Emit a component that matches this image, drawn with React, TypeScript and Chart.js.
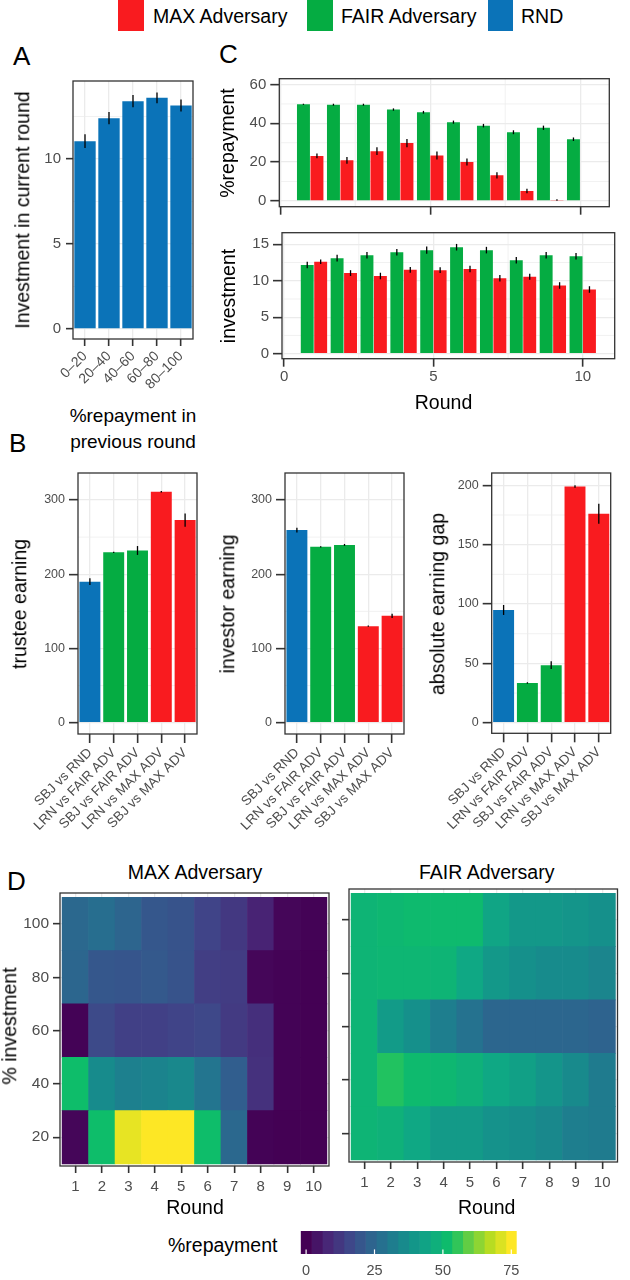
import React, { useEffect, useRef } from 'react';
import { Chart, registerables } from 'chart.js';

Chart.register(...registerables);

const FONT = "'Liberation Sans', Arial, Helvetica, sans-serif";
Chart.defaults.font.family = FONT;

const RED = '#f91b1f';
const GREEN = '#05ac42';
const BLUE = '#0b73b8';
const TICK_COL = '#4d4d4d';
const GRID_COL = '#ebebeb';
const AXIS_COL = '#333333';

// ---------------- Panel A ----------------
const A_CATEGORIES = ['0–20', '20–40', '40–60', '60–80', '80–100'];
const A_INVESTMENT = [11.05, 12.4, 13.4, 13.6, 13.15];
const A_ERROR = [0.4, 0.36, 0.36, 0.32, 0.35];
const A_Y_TICKS = [0, 5, 10];

// ---------------- Panel B ----------------
const B_CATEGORIES = ['SBJ vs RND', 'LRN vs FAIR ADV', 'SBJ vs FAIR ADV', 'LRN vs MAX ADV', 'SBJ vs MAX ADV'];
const B_GROUP = ['RND', 'FAIR', 'FAIR', 'MAX', 'MAX'];
const B_TRUSTEE = [190, 229.5, 232, 311, 273];
const B_TRUSTEE_ERR = [4.5, 0.8, 6, 1, 9];
const B_INVESTOR = [259.5, 237, 239.5, 130, 144];
const B_INVESTOR_ERR = [3.2, 0.8, 1.3, 0.8, 2.8];
const B_GAP = [95, 33.5, 48.5, 199, 176];
const B_GAP_ERR = [4.2, 0.6, 3.3, 1, 8.4];
const B_EARN_TICKS = [0, 100, 200, 300];
const B_GAP_TICKS = [0, 50, 100, 150, 200];

// ---------------- Panel C ----------------
const ROUNDS = [1, 2, 3, 4, 5, 6, 7, 8, 9, 10];
const C_REPAY_FAIR = [49.8, 49.6, 49.6, 47.1, 45.7, 40.6, 38.8, 35.4, 37.7, 31.8];
const C_REPAY_FAIR_ERR = [0.3, 0.5, 0.5, 0.6, 0.7, 0.8, 0.9, 1.0, 1.1, 0.9];
const C_REPAY_MAX = [23.2, 20.9, 25.6, 29.8, 23.4, 20.0, 13.2, 5.1, 0.5, null];
const C_REPAY_MAX_ERR = [1.2, 1.7, 2.0, 2.1, 2.0, 1.8, 1.6, 1.2, 0.4, null];
const C_INV_FAIR = [12.15, 13.1, 13.5, 13.9, 14.2, 14.6, 14.2, 12.8, 13.5, 13.35];
const C_INV_FAIR_ERR = [0.45, 0.45, 0.45, 0.45, 0.5, 0.45, 0.45, 0.45, 0.45, 0.45];
const C_INV_MAX = [12.6, 11.05, 10.65, 11.5, 11.45, 11.6, 10.35, 10.55, 9.35, 8.8];
const C_INV_MAX_ERR = [0.3, 0.4, 0.45, 0.4, 0.4, 0.45, 0.45, 0.4, 0.45, 0.45];
const C_X_TICKS = [0, 5, 10];
const C_REPAY_TICKS = [0, 20, 40, 60];
const C_INV_TICKS = [0, 5, 10, 15];

// ---------------- Panel D ----------------
const HEAT_INVEST_LEVELS = [20, 40, 60, 80, 100];
const MAX_REPAY_INV20 = [1, 52, 72.5, 75, 75, 52, 25, 0.5, 0, 0];
const MAX_REPAY_INV40 = [52, 36, 32.5, 33.5, 35, 29, 22, 10.5, 0.5, 0];
const MAX_REPAY_INV60 = [0.5, 16.5, 14, 14, 15, 16, 12.5, 10, 0.5, 0];
const MAX_REPAY_INV80 = [24.5, 20, 19.5, 20.5, 19, 13.5, 13, 1, 0.5, 0];
const MAX_REPAY_INV100 = [25, 27, 24, 20, 19, 15, 12, 7, 1, 0.5];
const FAIR_REPAY_INV20 = [49, 48, 45, 40.5, 40.5, 38, 37, 35, 32, 31];
const FAIR_REPAY_INV40 = [49, 54, 51, 50, 48, 45, 42.5, 39, 35.5, 31];
const FAIR_REPAY_INV60 = [49, 41, 37.5, 32, 28, 24.5, 24.5, 24.5, 24.5, 23.5];
const FAIR_REPAY_INV80 = [49, 49.5, 49.5, 49, 45, 40, 37.5, 36, 36, 34];
const FAIR_REPAY_INV100 = [49, 50, 51, 51, 51, 44, 40, 40, 39, 37.5];
const HEAT_Y_TICKS = [20, 40, 60, 80, 100];
const COLOR_MAX = 75;
const COLORBAR_TICKS = [0, 25, 50, 75];
const COLORBAR_BINS = 20;

const MAX_MATRIX = [MAX_REPAY_INV20, MAX_REPAY_INV40, MAX_REPAY_INV60, MAX_REPAY_INV80, MAX_REPAY_INV100];
const FAIR_MATRIX = [FAIR_REPAY_INV20, FAIR_REPAY_INV40, FAIR_REPAY_INV60, FAIR_REPAY_INV80, FAIR_REPAY_INV100];

const GROUP_COLOR: Record<string, string> = { RND: BLUE, FAIR: GREEN, MAX: RED };

// viridis-like palette (slightly more saturated, as printed in the figure)
const VIRIDIS = ['#440154', '#482576', '#404488', '#30608e', '#21788f', '#15908b', '#0fa884', '#0ebf68', '#6ccf40', '#bbdd20', '#fde725'];
function hexToRgb(h: string) {
  return [parseInt(h.slice(1, 3), 16), parseInt(h.slice(3, 5), 16), parseInt(h.slice(5, 7), 16)];
}
function viridis(t: number) {
  const s = Math.max(0, Math.min(1, t)) * (VIRIDIS.length - 1);
  const i = Math.min(Math.floor(s), VIRIDIS.length - 2);
  const f = s - i;
  const a = hexToRgb(VIRIDIS[i]);
  const b = hexToRgb(VIRIDIS[i + 1]);
  return `rgb(${a.map((v, k) => Math.round(v + (b[k] - v) * f)).join(',')})`;
}

// ---------------- geometry ----------------
type Cv = { x: number; y: number; w: number; h: number };
type Pl = { l: number; r: number; t: number; b: number };

const A_CV: Cv = { x: 0, y: 63, w: 205, h: 340 };
const A_PL: Pl = { l: 73, r: 193, t: 81, b: 339 };
const CT_CV: Cv = { x: 212, y: 60, w: 418, h: 168 };
const CT_PL: Pl = { l: 279.3, r: 609.3, t: 78.7, b: 206.7 };
const CB_CV: Cv = { x: 212, y: 214, w: 418, h: 176 };
const CB_PL: Pl = { l: 282, r: 614.7, t: 232.7, b: 358.7 };
const BL_CV: Cv = { x: 0, y: 455, w: 205, h: 380 };
const BL_PL: Pl = { l: 78, r: 197, t: 473, b: 734 };
const BM_CV: Cv = { x: 205, y: 455, w: 212, h: 380 };
const BM_PL: Pl = { l: 285, r: 404, t: 473, b: 734 };
const BR_CV: Cv = { x: 417, y: 455, w: 213, h: 380 };
const BR_PL: Pl = { l: 491.7, r: 610.7, t: 473, b: 733.3 };
const DL_CV: Cv = { x: 0, y: 875, w: 336, h: 330 };
const DL_PL: Pl = { l: 60, r: 329, t: 893, b: 1166 };
const DR_CV: Cv = { x: 336, y: 871, w: 294, h: 330 };
const DR_PL: Pl = { l: 349, r: 617.5, t: 889, b: 1162 };
const BAR_CV: Cv = { x: 288, y: 1213, w: 242, h: 67 };
const BAR_PL: Pl = { l: 300.7, r: 516.7, t: 1231, b: 1254 };

const yW = (cv: Cv, p: Pl) => p.l - cv.x;
const xH = (cv: Cv, p: Pl) => cv.y + cv.h - p.b;

function baseOptions(cv: Cv, p: Pl, scales: any): any {
  return {
    responsive: true,
    maintainAspectRatio: false,
    animation: false,
    events: [],
    layout: { padding: { left: 0, top: p.t - cv.y, right: cv.x + cv.w - p.r, bottom: 0 } },
    plugins: { legend: { display: false }, tooltip: { enabled: false }, title: { display: false } },
    scales,
  };
}

function linAxis(o: {
  pos: 'x' | 'y'; min: number; max: number; ticks: number[]; size: number;
  tickLen: number; pad: number; fit: number; labels?: boolean;
}): any {
  const isY = o.pos === 'y';
  return {
    type: 'linear',
    position: isY ? 'left' : 'bottom',
    min: o.min,
    max: o.max,
    offset: false,
    afterBuildTicks: (ax: any) => { ax.ticks = o.ticks.map((v) => ({ value: v })); },
    afterFit: (ax: any) => { if (isY) ax.width = o.fit; else ax.height = o.fit; },
    grid: {
      color: GRID_COL, lineWidth: 1.3, offset: false, drawTicks: true,
      tickLength: o.tickLen, tickColor: AXIS_COL, tickWidth: 1.6,
    },
    border: { display: false },
    ticks: {
      display: o.labels !== false, color: TICK_COL, font: { size: o.size, family: FONT },
      padding: o.pad, autoSkip: false, maxRotation: 0, minRotation: 0,
      callback: (v: any) => String(v),
    },
  };
}

function catAxis(o: { size: number; tickLen: number; pad: number; fit: number }): any {
  return {
    type: 'category',
    position: 'bottom',
    offset: true,
    afterFit: (ax: any) => { ax.height = o.fit; },
    grid: { color: GRID_COL, lineWidth: 1.3, offset: false, tickLength: o.tickLen, tickColor: AXIS_COL, tickWidth: 1.6 },
    border: { display: false },
    ticks: { color: TICK_COL, font: { size: o.size, family: FONT }, padding: o.pad, autoSkip: false, maxRotation: 45, minRotation: 45 },
  };
}

// ---------------- plugins ----------------
function framePlugin(): any {
  return {
    id: 'frame',
    afterDraw(chart: any) {
      const { ctx, chartArea: a } = chart;
      ctx.save();
      ctx.strokeStyle = AXIS_COL;
      ctx.lineWidth = 1.3;
      ctx.strokeRect(a.left, a.top, a.right - a.left, a.bottom - a.top);
      ctx.restore();
    },
  };
}

function minorGridPlugin(xs: number[], ys: number[]): any {
  return {
    id: 'minorGrid',
    beforeDatasetsDraw(chart: any) {
      const { ctx, chartArea: a, scales } = chart;
      ctx.save();
      ctx.strokeStyle = GRID_COL;
      ctx.lineWidth = 0.7;
      ys.forEach((v) => {
        const y = scales.y.getPixelForValue(v);
        ctx.beginPath(); ctx.moveTo(a.left, y); ctx.lineTo(a.right, y); ctx.stroke();
      });
      xs.forEach((v) => {
        const x = scales.x.getPixelForValue(v);
        ctx.beginPath(); ctx.moveTo(x, a.top); ctx.lineTo(x, a.bottom); ctx.stroke();
      });
      ctx.restore();
    },
  };
}

const errorBarPlugin: any = {
  id: 'errorBars',
  afterDatasetsDraw(chart: any) {
    const ctx = chart.ctx;
    chart.data.datasets.forEach((ds: any, i: number) => {
      const errs = ds.errors as (number | null)[] | undefined;
      if (!errs) return;
      const meta = chart.getDatasetMeta(i);
      const ys = chart.scales[meta.yAxisID];
      ctx.save();
      ctx.strokeStyle = '#000';
      ctx.lineWidth = 1.3;
      meta.data.forEach((el: any, j: number) => {
        const e = errs[j];
        const p = meta.controller.getParsed(j);
        if (e == null || !p || p.y == null || isNaN(p.y)) return;
        ctx.beginPath();
        ctx.moveTo(el.x, ys.getPixelForValue(p.y - e));
        ctx.lineTo(el.x, ys.getPixelForValue(p.y + e));
        ctx.stroke();
      });
      ctx.restore();
    });
  },
};

// ---------------- chart configs ----------------
function makeA(): any {
  return {
    type: 'bar',
    data: {
      labels: A_CATEGORIES,
      datasets: [{ data: A_INVESTMENT, errors: A_ERROR, backgroundColor: BLUE, barPercentage: 0.89, categoryPercentage: 1 }],
    },
    options: baseOptions(A_CV, A_PL, {
      x: catAxis({ size: 14, tickLen: 7, pad: 2, fit: xH(A_CV, A_PL) }),
      y: linAxis({ pos: 'y', min: -0.59, max: 14.59, ticks: A_Y_TICKS, size: 15, tickLen: 7, pad: 5, fit: yW(A_CV, A_PL) }),
    }),
    plugins: [minorGridPlugin([], [2.5, 7.5, 12.5]), errorBarPlugin, framePlugin()],
  };
}

function makeB(cv: Cv, pl: Pl, values: number[], errs: number[], min: number, max: number, ticks: number[], minor: number[]): any {
  return {
    type: 'bar',
    data: {
      labels: B_CATEGORIES,
      datasets: [{
        data: values, errors: errs,
        backgroundColor: B_GROUP.map((g) => GROUP_COLOR[g]),
        barPercentage: 0.88, categoryPercentage: 1,
      }],
    },
    options: baseOptions(cv, pl, {
      x: catAxis({ size: 13.5, tickLen: 9, pad: 2, fit: xH(cv, pl) }),
      y: linAxis({ pos: 'y', min, max, ticks, size: 12.5, tickLen: 9, pad: 4, fit: yW(cv, pl) }),
    }),
    plugins: [minorGridPlugin([], minor), errorBarPlugin, framePlugin()],
  };
}

function makeC(cv: Cv, pl: Pl, fair: (number | null)[], fairErr: (number | null)[], max: (number | null)[], maxErr: (number | null)[],
  yMin: number, yMax: number, yTicks: number[], yMinor: number[], xMin: number, xMax: number, xLabels: boolean): any {
  return {
    type: 'bar',
    data: {
      datasets: [
        { data: ROUNDS.map((r, i) => ({ x: r, y: fair[i] })), errors: fairErr, backgroundColor: GREEN, barPercentage: 0.96, categoryPercentage: 0.9 },
        { data: ROUNDS.map((r, i) => ({ x: r, y: max[i] })), errors: maxErr, backgroundColor: RED, barPercentage: 0.96, categoryPercentage: 0.9 },
      ],
    },
    options: baseOptions(cv, pl, {
      x: linAxis({ pos: 'x', min: xMin, max: xMax, ticks: C_X_TICKS, size: 15, tickLen: 8, pad: 1, fit: xH(cv, pl), labels: xLabels }),
      y: linAxis({ pos: 'y', min: yMin, max: yMax, ticks: yTicks, size: 15, tickLen: 9, pad: 4, fit: yW(cv, pl) }),
    }),
    plugins: [minorGridPlugin([2.5, 7.5], yMinor), errorBarPlugin, framePlugin()],
  };
}

function makeHeat(cv: Cv, pl: Pl, matrix: number[][], yLabels: boolean): any {
  return {
    type: 'bar',
    data: {
      datasets: HEAT_INVEST_LEVELS.map((lev, r) => ({
        data: ROUNDS.map((rd) => ({ x: rd, y: [lev - 10, lev + 10] })),
        backgroundColor: matrix[r].map((v) => viridis(v / COLOR_MAX)),
        grouped: false, barPercentage: 1, categoryPercentage: 1, borderWidth: 0,
      })),
    },
    options: baseOptions(cv, pl, {
      x: linAxis({ pos: 'x', min: 0.42, max: 10.58, ticks: ROUNDS, size: 15, tickLen: 7, pad: 5, fit: xH(cv, pl) }),
      y: linAxis({ pos: 'y', min: 9.2, max: 111.6, ticks: HEAT_Y_TICKS, size: 15.5, tickLen: 7, pad: 4, fit: yW(cv, pl), labels: yLabels }),
    }),
    plugins: [framePlugin()],
  };
}

function makeColorbar(): any {
  const w = COLOR_MAX / (COLORBAR_BINS - 1);
  const cv = BAR_CV, pl = BAR_PL;
  return {
    type: 'bar',
    data: {
      labels: [''],
      datasets: Array.from({ length: COLORBAR_BINS }, (_, k) => {
        const c = k * w;
        return {
          data: [[c - w / 2, c + w / 2]],
          backgroundColor: viridis(k / (COLORBAR_BINS - 1)),
          grouped: false, barPercentage: 1, categoryPercentage: 1, borderWidth: 0,
        };
      }),
    },
    options: {
      indexAxis: 'y',
      responsive: true, maintainAspectRatio: false, animation: false, events: [],
      layout: { padding: { left: pl.l - cv.x, top: pl.t - cv.y, right: cv.x + cv.w - pl.r, bottom: 0 } },
      plugins: { legend: { display: false }, tooltip: { enabled: false } },
      scales: {
        y: { type: 'category', display: false, offset: true },
        x: {
          type: 'linear', position: 'bottom', min: -w / 2, max: COLOR_MAX + w / 2, offset: false,
          afterBuildTicks: (ax: any) => { ax.ticks = COLORBAR_TICKS.map((v) => ({ value: v })); },
          afterFit: (ax: any) => { ax.height = cv.y + cv.h - pl.b; },
          grid: { display: false, drawTicks: false },
          border: { display: false },
          ticks: { color: TICK_COL, font: { size: 14.5, family: FONT }, padding: 8.3, autoSkip: false, maxRotation: 0, callback: (v: any) => String(v) },
        },
      },
    },
    plugins: [{
      id: 'cbTicks',
      afterDatasetsDraw(chart: any) {
        const { ctx, chartArea: a, scales } = chart;
        ctx.save();
        ctx.strokeStyle = '#ffffff';
        ctx.lineWidth = 1.2;
        COLORBAR_TICKS.forEach((v) => {
          const x = scales.x.getPixelForValue(v);
          ctx.beginPath(); ctx.moveTo(x, a.bottom - 4.6); ctx.lineTo(x, a.bottom); ctx.stroke();
        });
        ctx.restore();
      },
    }],
  };
}

// ---------------- components ----------------
function ChartCanvas({ cv, make }: { cv: Cv; make: () => any }) {
  const ref = useRef<HTMLCanvasElement>(null);
  useEffect(() => {
    const chart = new Chart(ref.current as HTMLCanvasElement, make());
    return () => chart.destroy();
  }, []);
  return (
    <div style={{ position: 'absolute', left: cv.x, top: cv.y, width: cv.w, height: cv.h }}>
      <canvas ref={ref} />
    </div>
  );
}

function Txt({ x, y, size, rot = 0, anchor = 'c', children }: { x: number; y: number; size: number; rot?: number; anchor?: 'c' | 'l'; children: any }) {
  const tx = anchor === 'c' ? '-50%' : '0';
  return (
    <div
      style={{
        position: 'absolute', left: x, top: y, fontSize: size, lineHeight: 1, whiteSpace: 'nowrap',
        transform: `translate(${tx}, -50%)${rot ? ` rotate(${rot}deg)` : ''}`,
        color: '#000', fontFamily: FONT,
      }}
    >
      {children}
    </div>
  );
}

function Swatch({ x, y, w, h, c }: { x: number; y: number; w: number; h: number; c: string }) {
  return <div style={{ position: 'absolute', left: x, top: y, width: w, height: h, background: c }} />;
}

export default function App() {
  return (
    <div style={{ position: 'absolute', left: 0, top: 0, width: 630, height: 1280, background: '#fff', overflow: 'hidden', fontFamily: FONT }}>
      {/* legend */}
      <Swatch x={118} y={0} w={26} h={31} c={RED} />
      <Txt x={153} y={17} size={19.5} anchor="l">MAX Adversary</Txt>
      <Swatch x={307} y={0} w={25.5} h={31} c={GREEN} />
      <Txt x={341} y={17} size={19.5} anchor="l">FAIR Adversary</Txt>
      <Swatch x={487.5} y={0} w={25} h={31} c={BLUE} />
      <Txt x={521} y={17} size={19.5} anchor="l">RND</Txt>

      {/* panel letters */}
      <Txt x={13} y={56} size={26} anchor="l">A</Txt>
      <Txt x={219} y={54} size={26} anchor="l">C</Txt>
      <Txt x={9} y={443} size={26} anchor="l">B</Txt>
      <Txt x={7} y={881} size={26} anchor="l">D</Txt>

      {/* panel A */}
      <ChartCanvas cv={A_CV} make={makeA} />
      <Txt x={23} y={210} size={19.5} rot={-90}>Investment in current round</Txt>
      <Txt x={133} y={415} size={19}>%repayment in</Txt>
      <Txt x={133} y={441} size={19}>previous round</Txt>

      {/* panel C */}
      <ChartCanvas cv={CT_CV} make={() => makeC(CT_CV, CT_PL, C_REPAY_FAIR, C_REPAY_FAIR_ERR, C_REPAY_MAX, C_REPAY_MAX_ERR, -3, 63, C_REPAY_TICKS, [10, 30, 50], -0.03, 10.97, false)} />
      <ChartCanvas cv={CB_CV} make={() => makeC(CB_CV, CB_PL, C_INV_FAIR, C_INV_FAIR_ERR, C_INV_MAX, C_INV_MAX_ERR, -0.69, 16.59, C_INV_TICKS, [2.5, 7.5, 12.5], -0.07, 11.07, true)} />
      <Txt x={228} y={142.7} size={19.5} rot={-90}>%repayment</Txt>
      <Txt x={229} y={295.7} size={19.5} rot={-90}>investment</Txt>
      <Txt x={443.5} y={403} size={19.5}>Round</Txt>

      {/* panel B */}
      <ChartCanvas cv={BL_CV} make={() => makeB(BL_CV, BL_PL, B_TRUSTEE, B_TRUSTEE_ERR, -15.2, 336.4, B_EARN_TICKS, [50, 150, 250])} />
      <ChartCanvas cv={BM_CV} make={() => makeB(BM_CV, BM_PL, B_INVESTOR, B_INVESTOR_ERR, -15.2, 336.4, B_EARN_TICKS, [50, 150, 250])} />
      <ChartCanvas cv={BR_CV} make={() => makeB(BR_CV, BR_PL, B_GAP, B_GAP_ERR, -8.9, 210.4, B_GAP_TICKS, [25, 75, 125, 175])} />
      <Txt x={20} y={603.5} size={19.5} rot={-90}>trustee earning</Txt>
      <Txt x={228} y={603.5} size={19.5} rot={-90}>investor earning</Txt>
      <Txt x={438} y={603.5} size={19.5} rot={-90}>absolute earning gap</Txt>

      {/* panel D */}
      <Txt x={195} y={873} size={19.5}>MAX Adversary</Txt>
      <Txt x={486.7} y={873} size={19.5}>FAIR Adversary</Txt>
      <ChartCanvas cv={DL_CV} make={() => makeHeat(DL_CV, DL_PL, MAX_MATRIX, true)} />
      <ChartCanvas cv={DR_CV} make={() => makeHeat(DR_CV, DR_PL, FAIR_MATRIX, false)} />
      <Txt x={10} y={1026} size={19.5} rot={-90}>% investment</Txt>
      <Txt x={195} y={1208} size={19.5}>Round</Txt>
      <Txt x={486.7} y={1208} size={19.5}>Round</Txt>

      {/* colour bar */}
      <Txt x={168} y={1246} size={19.5} anchor="l">%repayment</Txt>
      <ChartCanvas cv={BAR_CV} make={makeColorbar} />
    </div>
  );
}
